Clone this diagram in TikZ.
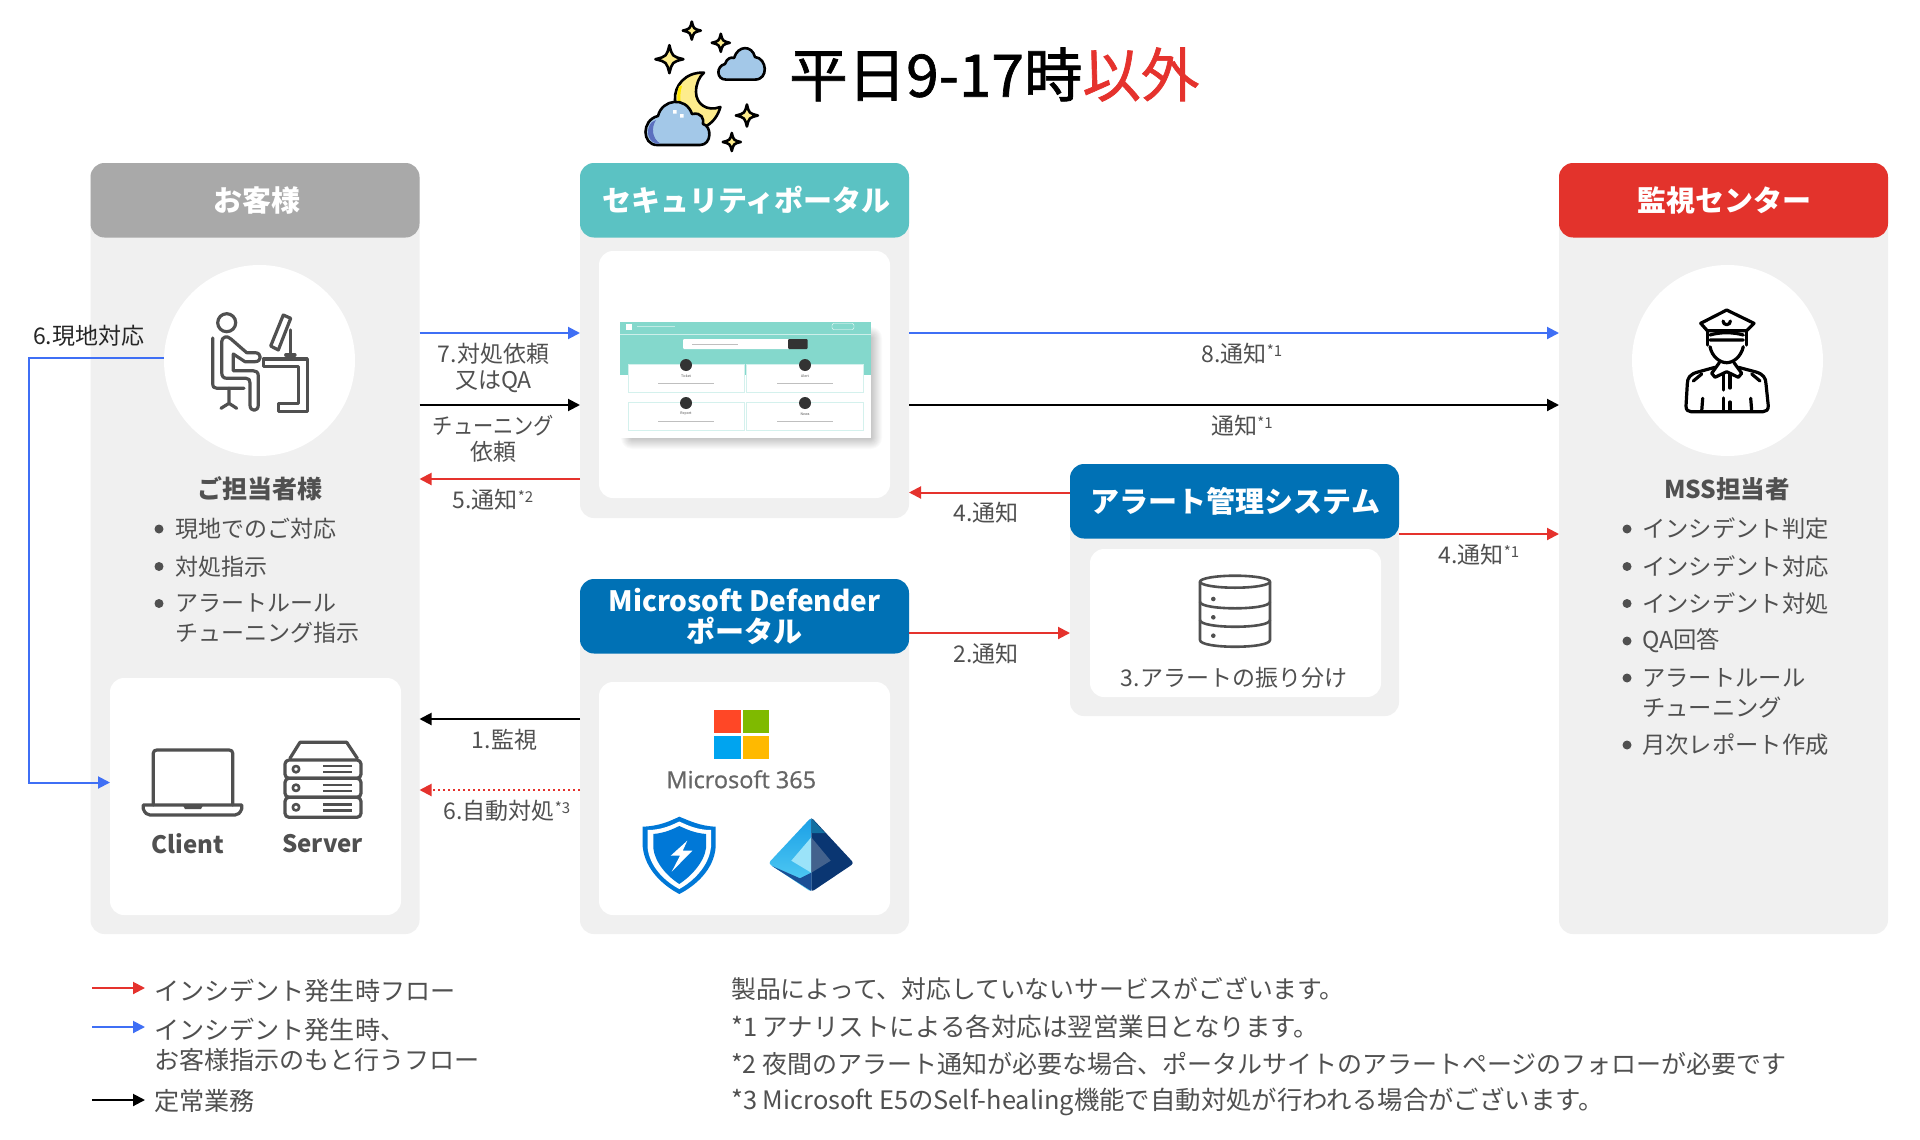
\documentclass[tikz,border=0pt]{standalone}
\usepackage{fontspec}
\setmainfont{Noto Sans CJK JP}
\newfontfamily\titlefont[FakeBold=1.2]{Noto Sans CJK JP}
\newfontfamily\logofont[FakeBold=0.8]{Open Sans}
\usetikzlibrary{arrows.meta,calc}

\definecolor{panelgray}{HTML}{F0F0F0}
\definecolor{headgray}{HTML}{A9A9A9}
\definecolor{headteal}{HTML}{5BC2C3}
\definecolor{headblue}{HTML}{0071B5}
\definecolor{headred}{HTML}{E3332C}
\definecolor{flowblue}{HTML}{3F6FF5}
\definecolor{flowred}{HTML}{E5322D}
\definecolor{inkgray}{HTML}{505050}
\definecolor{shotteal}{HTML}{84D8CC}
\definecolor{moonyel}{HTML}{FDEC8C}
\definecolor{cloudblue}{HTML}{A3C8E8}
\definecolor{shieldblue}{HTML}{0078D7}

\newcommand{\nmark}[1]{\raisebox{.5ex}{\fontsize{15}{15}\selectfont *#1}}

\tikzset{
	panelbox/.style={draw=none,fill=panelgray,rounded corners=14pt,inner sep=0pt,outer sep=0pt},
	innerbox/.style={draw=none,fill=white,rounded corners=14pt,inner sep=0pt,outer sep=0pt},
	headbox/.style={draw=none,rounded corners=14pt,inner sep=0pt,outer sep=0pt,minimum width=329pt,minimum height=74.5pt,
		text=white,align=center,font=\fontsize{29}{31}\selectfont\bfseries},
	lbl/.style={inner sep=0pt,text=inkgray,align=center,font=\fontsize{23}{26.5}\selectfont},
	lblw/.style={lbl,anchor=west,align=left},
	bul/.style={circle,fill=inkgray,inner sep=0pt,minimum size=9pt},
	flow/.style={line width=2pt,-{Triangle[length=12pt,width=12pt]}},
	icon/.style={draw=inkgray,line width=3.2pt,line join=round,line cap=round},
	nite/.style={draw=black,line width=2.6pt,line join=round,line cap=round},
}

\begin{document}
\begin{tikzpicture}[x=1pt,y=-1pt]
	\path[use as bounding box,fill=white] (0,0) rectangle (1920,1140);

	% panels
	\node[panelbox,anchor=north west,minimum width=329pt,minimum height=771pt] (custp) at (90.5,163) {};
	\node[panelbox,anchor=north west,minimum width=329pt,minimum height=355pt] (portp) at (580,163) {};
	\node[panelbox,anchor=north west,minimum width=329pt,minimum height=355pt] (defp) at (580,579) {};
	\node[panelbox,anchor=north west,minimum width=329pt,minimum height=252pt] (alertp) at (1070,464) {};
	\node[panelbox,anchor=north west,minimum width=329pt,minimum height=771pt] (socp) at (1559,163) {};

	\node[innerbox,anchor=north west,minimum width=291pt,minimum height=237pt] (custi) at (110,678) {};
	\node[innerbox,anchor=north west,minimum width=291pt,minimum height=247pt] (porti) at (599,251) {};
	\node[innerbox,anchor=north west,minimum width=291pt,minimum height=233pt] (defi) at (599,682) {};
	\node[innerbox,anchor=north west,minimum width=291pt,minimum height=148pt] (alerti) at (1090,549) {};

	\node[headbox,fill=headgray,anchor=north] (custh) at (custp.north) {\hspace{3pt}お客様};
	\node[headbox,fill=headteal,anchor=north] (porth) at (portp.north) {\hspace{4pt}セキュリティポータル};
	\node[headbox,fill=headblue,anchor=north] (defh) at (defp.north) {{\fontsize{28}{31}\selectfont Microsoft Defender}\\ポータル};
	\node[headbox,fill=headblue,anchor=north] (alerth) at (alertp.north) {\hspace{2pt}アラート管理システム};
	\node[headbox,fill=headred,anchor=north] (soch) at (socp.north) {\hspace{2pt}監視センター};

	\node[circle,fill=white,minimum size=191pt,inner sep=0pt] (custc) at (259.5,360.5) {};
	\node[circle,fill=white,minimum size=191pt,inner sep=0pt] (socc) at (1727.5,360.5) {};

	% title
	\node[inner sep=0pt,anchor=west,font=\fontsize{58.5}{60}\titlefont] (title) at (789,74.5) {平日9-17時\textcolor{flowred}{以外}};

	% levels of the connectors
	\coordinate (ya) at (0,333);
	\coordinate (yb) at (0,405);
	\coordinate (yc) at (0,479);
	\coordinate (yd) at (0,492.5);
	\coordinate (ye) at (0,534);
	\coordinate (yf) at (0,633);
	\coordinate (yg) at (0,719);
	\coordinate (yh) at (0,790);
	\coordinate (yi) at (0,358);
	\coordinate (yj) at (0,782.5);
	\coordinate (xa) at (29,0);

	\draw[flow,flowblue] (custp.east |- ya) -- (portp.west |- ya);
	\draw[flow,black] (custp.east |- yb) -- (portp.west |- yb);
	\draw[flow,flowred] (portp.west |- yc) -- (custp.east |- yc);
	\draw[flow,flowblue] (portp.east |- ya) -- (socp.west |- ya);
	\draw[flow,black] (portp.east |- yb) -- (socp.west |- yb);
	\draw[flow,flowred] (alerth.west |- yd) -- (portp.east |- yd);
	\draw[flow,flowred] (alertp.east |- ye) -- (socp.west |- ye);
	\draw[flow,flowred] (defh.east |- yf) -- (alertp.west |- yf);
	\draw[flow,black] (defp.west |- yg) -- (custp.east |- yg);
	\draw[flow,flowred,dash pattern=on 2pt off 3pt] (defp.west |- yh) -- (custp.east |- yh);
	\draw[flow,flowblue] (custc.west |- yi) -- (xa |- yi) -- (xa |- yj) -- (custi.west |- yj);

	% connector labels
	\node[lbl] (l7) at (493.5,368) {7.対処依頼\\又はQA};
	\node[lbl] (lt) at (493.5,439) {\scalebox{.88}[1]{チューニング}\\依頼};
	\node[lbl] (l5) at (493,499.5) {5.通知\nmark{2}};
	\node[lbl] (l8) at (1242,354) {8.通知\nmark{1}};
	\node[lbl] (ln) at (1242,426) {通知\nmark{1}};
	\node[lbl] (l4a) at (986,513) {4.通知};
	\node[lbl] (l4b) at (1479,555) {4.通知\nmark{1}};
	\node[lbl] (l2) at (986,654) {2.通知};
	\node[lbl] (l1) at (504.5,739.5) {1.監視};
	\node[lbl] (l6b) at (507,811) {6.自動対処\nmark{3}};
	\node[lblw,text=black!85] (l6a) at (33,336) {6.現地対応};
	\node[lbl] (l3) at (1234,678) {3.アラートの振り分け};

	% customer texts
	\node[lbl,font=\fontsize{25}{26}\selectfont\bfseries] (custn) at (260,489) {ご担当者様};
	\foreach \n/\y/\t in {a/529/現地でのご対応,b/566.5/対処指示,c/603.5/アラートルール} {
		\node[bul] (cb\n) at (159,\y) {};
		\node[lblw] (ct\n) at (175,\y) {\t};
	}
	\node[lblw] (ctd) at (175,633) {チューニング指示};
	\node[lbl,font=\fontsize{24}{26}\selectfont\bfseries] (client) at (188,843.5) {Client};
	\node[lbl,font=\fontsize{24}{26}\selectfont\bfseries] (server) at (322.5,843.5) {Server};

	% monitoring centre texts
	\foreach \n/\y/\t in {a/529/インシデント判定,b/566.5/インシデント対応,c/603.5/インシデント対処,d/641/QA回答,e/678/アラートルール,f/745/月次レポート作成} {
		\node[bul] (sb\n) at (1627,\y) {};
		\node[lblw,font=\fontsize{23.3}{26}\selectfont] (st\n) at (1642,\y) {\t};
	}
	\node[lblw,font=\fontsize{23.3}{26}\selectfont] (stg) at (1642,707.5) {チューニング};
	\node[lbl,font=\fontsize{24.5}{26}\selectfont\bfseries] (socn) at (1727,489) {MSS担当者};

	% legend and notes
	\coordinate (la) at (92,988);
	\coordinate (lb) at (92,1027);
	\coordinate (lc) at (92,1100);
	\draw[flow,flowred] (la) -- ++(53,0);
	\draw[flow,flowblue] (lb) -- ++(53,0);
	\draw[flow,black] (lc) -- ++(53,0);
	\node[lblw,font=\fontsize{25.1}{30}\selectfont] (lga) at (154,990.5) {インシデント発生時フロー};
	\node[lblw,font=\fontsize{25.1}{30}\selectfont] (lgb) at (154,1044.5) {インシデント発生時、\\お客様指示のもと行うフロー};
	\node[lblw,font=\fontsize{25.1}{30}\selectfont] (lgc) at (154,1101.5) {定常業務};
	\node[lblw,font=\fontsize{24.8}{30}\selectfont] (na) at (731,988.5) {製品によって、対応していないサービスがございます。};
	\node[lblw,font=\fontsize{25.5}{30}\selectfont] (nb) at (731,1026.5) {*1 アナリストによる各対応は翌営業日となります。};
	\node[lblw,font=\fontsize{25}{30}\selectfont] (nc) at (731,1063.5) {*2 夜間のアラート通知が必要な場合、ポータルサイトのアラートページのフォローが必要です};
	\node[lblw,font=\fontsize{25.4}{30}\selectfont] (nd) at (731,1102) {*3 Microsoft E5のSelf-healing機能で自動対処が行われる場合がございます。};

	% night icon
	\draw[nite,fill=cloudblue] (726,79.6) .. controls (716,79.6) and (716,66) .. (725,64) .. controls (727,58) and (731,57) .. (734,58) .. controls (738,45) and (752,45) .. (755,57) .. controls (767,58) and (769,79.6) .. (755,79.6) -- cycle;
	\draw[nite,fill=moonyel] (704,72.6) .. controls (685,72) and (674,86) .. (675,100) .. controls (675,115) and (690,128) .. (704,127) .. controls (712,124) and (718,116) .. (720.4,107) .. controls (707,112) and (696,104) .. (696,92) .. controls (696,84) and (699,77) .. (704,72.6) -- cycle;
	\fill[yellow!90!orange] (679,86) .. controls (677,92) and (677,98) .. (678,104) -- (681,104) .. controls (680,98) and (680,92) .. (682,86) -- cycle;
	\draw[nite,fill=cloudblue] (657,145) .. controls (642,145) and (641,120) .. (658,116) .. controls (662,99) and (686,96) .. (692,114) .. controls (702,112) and (704,119) .. (703,124) .. controls (712,126) and (712,145) .. (700,145) -- cycle;
	\fill[cloudblue!70!blue!80!black] (652,122) .. controls (646,128) and (646,140) .. (656,143.5) -- (660,143.5) .. controls (652,138) and (651,128) .. (656,120) -- cycle;
	\fill[white] (673,110) rectangle ++(3.5,3.5) (680,114) rectangle ++(3.5,3.5);
	\foreach \x/\y/\r in {669.4/59.2/14,691.8/30.6/9,720.8/42.8/9,746.9/115.5/11,731.8/142/9} {
		\draw[nite,fill=moonyel] (\x,\y-\r) .. controls (\x+.2*\r,\y-.2*\r) .. (\x+\r,\y) .. controls (\x+.2*\r,\y+.2*\r) .. (\x,\y+\r) .. controls (\x-.2*\r,\y+.2*\r) .. (\x-\r,\y) .. controls (\x-.2*\r,\y-.2*\r) .. cycle;
	}

	% person at desk
	\draw[icon] (226.7,322.7) circle (9);
	\draw[icon] (212.7,338) -- (212.7,383) .. controls (212.7,387) and (214,388.3) .. (217,388.3) -- (244,388.3);
	\draw[icon] (229,388.3) -- (229,403.3) (221,408.3) -- (229,403.3) -- (236.7,408.3);
	\draw[icon] (221.7,341.7) -- (221.7,372) .. controls (221.7,376) and (223,378.3) .. (227,378.3) -- (246,378.3) .. controls (249,378.3) and (250,380) .. (250,383) -- (250,405) .. controls (250,412) and (258.3,412) .. (258.3,405) -- (258.3,376) .. controls (258.3,372) and (256,370.7) .. (253,370.7) -- (233.3,370.7) -- (233.3,354) -- (245,361.7) -- (255,361.7) .. controls (262,361.7) and (262,352.7) .. (255,352.7) -- (246.7,352.7) -- (231,339) .. controls (227,335) and (221.7,337) .. (221.7,341.7) -- cycle;
	\draw[icon] (283.3,315) -- (290.7,318.3) -- (278.3,350) -- (270.7,346) -- cycle;
	\draw[icon] (290.7,330) -- (290.7,355) (285.7,355) -- (295,355);
	\draw[icon] (263.3,359) -- (307.3,359) -- (307.3,411.7) -- (278.3,411.7) -- (278.3,403.3) -- (298.3,403.3) -- (298.3,366.7) -- (263.3,366.7) -- cycle;

	% officer
	\begin{scope}[icon,draw=black]
	\draw (1726.7,310) -- (1754,323.3) -- (1746.7,330.7) -- (1707.3,330.7) -- (1700.7,323.3) -- cycle;
	\draw (1710,335) .. controls (1720,332) and (1733,332) .. (1743.3,335) (1710,340) -- (1743.3,340);
	\draw (1707.3,331) -- (1707.3,345) (1746.7,331) -- (1746.7,345);
	\draw (1710,346.7) .. controls (1712,357) and (1720,362.7) .. (1726.7,362.7) .. controls (1733,362.7) and (1741,357) .. (1743.3,346.7);
	\draw (1723,321) arc (180:0:3.7);
	\draw (1715,367.3) -- (1698,372) .. controls (1690,374) and (1687.3,378) .. (1687.3,384) -- (1686,406) .. controls (1686,410) and (1688,411.7) .. (1691,411.7) -- (1763,411.7) .. controls (1766,411.7) and (1768.3,410) .. (1768.3,406) -- (1766,384) .. controls (1766,378) and (1763,374) .. (1756,372) -- (1738.3,367.3);
	\draw (1719.3,362.7) -- (1711.7,373.3) -- (1715,377.3) -- (1726.7,371.7) -- (1738.3,377.3) -- (1741.7,373.3) -- (1734,362.7);
	\draw (1723.3,374) -- (1723.3,390) (1723.3,398) -- (1723.3,411) (1730,374) -- (1730,388) (1730,402) -- (1730,411);
	\draw (1702.7,398.3) -- (1701.7,411) (1750.7,398.3) -- (1751.7,411);
	\draw (1693.3,381) -- (1701.7,374) (1760,381) -- (1751.7,374);
	\end{scope}

	% laptop
	\draw[icon] (153.3,805) -- (153.3,753) .. controls (153.3,751) and (155,750) .. (157,750) -- (229,750) .. controls (231,750) and (232.7,751) .. (232.7,753) -- (232.7,805);
	\draw[icon] (143.3,805) -- (241.7,805) -- (241.7,809) .. controls (240,813) and (238,815) .. (235,815) -- (150,815) .. controls (147,815) and (145,813) .. (143.3,809) -- cycle;
	\fill[inkgray] (182.7,805) -- (203.3,805) -- (201,809) -- (185,809) -- cycle;

	% server
	\draw[icon] (290,758.3) -- (300,742.3) -- (346.7,742.3) -- (357.3,758.3);
	\foreach \a/\b in {760/778.3,778.3/797.3,797.3/817.3} {
		\draw[icon,rounded corners=4pt] (285,\a) rectangle (361,\b);
		\draw[icon,line width=2.6pt] (296,{(\a+\b)/2}) circle (3.2);
		\draw[icon,line width=2.4pt,line cap=butt] (323.3,{(\a+\b)/2-3}) -- (351.7,{(\a+\b)/2-3}) (323.3,{(\a+\b)/2+3}) -- (351.7,{(\a+\b)/2+3});
	}

	% database
	\draw[icon,line width=2.6pt] (1235,581.7) ellipse (35 and 6);
	\draw[icon,line width=2.6pt] (1200,581.7) -- (1200,640) .. controls (1200,649) and (1270,649) .. (1270,640) -- (1270,581.7);
	\draw[icon,line width=2.6pt] (1200,601.7) .. controls (1200,610.5) and (1270,610.5) .. (1270,601.7);
	\draw[icon,line width=2.6pt] (1200,620) .. controls (1200,629) and (1270,629) .. (1270,620);
	\foreach \y in {599,617.3,635.7} \fill[inkgray] (1213.3,\y) circle (2.3);

	% microsoft logo
	\fill[orange!30!red!85!white] (714.3,710) rectangle (741,733.3);
	\definecolor{mslogo}{HTML}{7FBA00}\fill[mslogo] (743,710) rectangle (769.3,733.3);
	\definecolor{mslogo}{HTML}{00A4EF}\fill[mslogo] (714.3,736) rectangle (741,759.3);
	\definecolor{mslogo}{HTML}{FFB900}\fill[mslogo] (743,736) rectangle (769.3,759.3);
	\node[lbl,text=black!60,font=\fontsize{23.5}{27}\logofont] (mstext) at (741.3,779.3) {Microsoft 365};

	% shield
	\fill[shieldblue] (642.7,826.7) .. controls (660,826) and (670,821) .. (679.3,816.7) .. controls (690,821) and (700,826) .. (715.7,826.7) -- (715.7,846.7) .. controls (714,870) and (695,886) .. (679.3,894) .. controls (664,886) and (645,870) .. (642.7,846.7) -- cycle;
	\fill[white] (647.5,830) .. controls (662,830) and (672,825) .. (679.3,821.5) .. controls (687,825) and (697,830) .. (711,830) -- (711,846.7) .. controls (709,867) and (692,882) .. (679.3,889) .. controls (666,882) and (649,867) .. (647.5,846.7) -- cycle;
	\fill[shieldblue] (653.3,834) .. controls (665,833) and (673,829) .. (679.3,826) .. controls (686,829) and (694,833) .. (706,834) -- (706,848.3) .. controls (704,863) and (690,877) .. (679.3,884) .. controls (668,877) and (655,863) .. (653.3,848.3) -- cycle;
	\fill[white] (687.3,840.7) -- (670.7,855.7) -- (680,855.7) -- (671.7,871.7) -- (692.3,850.7) -- (682.7,850.7) -- cycle;

	% directory pyramid
	\definecolor{pyrtop}{HTML}{1A9FE6}
	\definecolor{pyrlow}{HTML}{58D0F5}
	\definecolor{pyrdark}{HTML}{0A3672}
	\definecolor{pyrmid}{HTML}{1A4F96}
	\begin{scope}[rounded corners=3pt]
	\shade[top color=pyrtop,bottom color=pyrlow] (811.3,817.3) -- (768.3,863.3) -- (811.3,892) -- cycle;
	\fill[pyrdark] (811.3,817.3) -- (854,863.3) -- (811.3,892) -- cycle;
	\end{scope}
	\fill[pyrtop!70!black] (811.3,818) -- (811.3,833) -- (825,833) -- cycle;
	\fill[pyrmid] (772,866) -- (800,878.3) -- (811.3,872.7) -- (811.3,891) -- cycle;
	\fill[pyrlow!60!white] (811.3,837.3) -- (791.3,860.7) -- (811.3,872.7) -- cycle;
	\fill[pyrmid!60!gray] (811.3,837.3) -- (830.7,860.7) -- (811.3,872.7) -- cycle;

	% portal screenshot
	\foreach \d in {0,...,11} \fill[black,opacity=.02,rounded corners=\d pt] (632-\d,338-\d) rectangle (871+\d,438+\d);
	\fill[white] (620,321.7) rectangle (870.7,437.7);
	\fill[shotteal] (620,321.7) rectangle (870.7,375);
	\draw[white,opacity=.6] (620,334) -- (870.7,334);
	\fill[white] (626,323.5) rectangle (632,329.5);
	\draw[white,opacity=.5,line width=.8pt] (637,326.5) -- (675,326.5);
	\draw[white,rounded corners=2pt] (832,323.5) rectangle (854,329.5);
	\fill[white,rounded corners=1pt] (683,339) rectangle (790,349);
	\fill[black!80,rounded corners=1pt] (788,339) rectangle (807.5,349);
	\draw[black!25,line width=.8pt] (692,344) -- (738,344);
	\foreach \l/\t/\r/\b/\s/\c in {628/364/744/392/Ticket/686,746/364/863/392/Alert/805,628/402/744/430.7/Report/686,746/402/863/430.7/News/805} {
		\draw[shotteal!35!white,fill=white,line width=.8pt] (\l,\t) rectangle (\r,\b);
		\fill[black!80] (\c,\t+1) circle (6);
		\node[inner sep=0pt,text=black!70,font=\fontsize{3.5}{4}\selectfont] (s\s) at (\c,\t+12) {\s};
		\draw[black!25,line width=.8pt] (\c-28,\t+19) -- (\c+28,\t+19);
	}
\end{tikzpicture}
\end{document}
